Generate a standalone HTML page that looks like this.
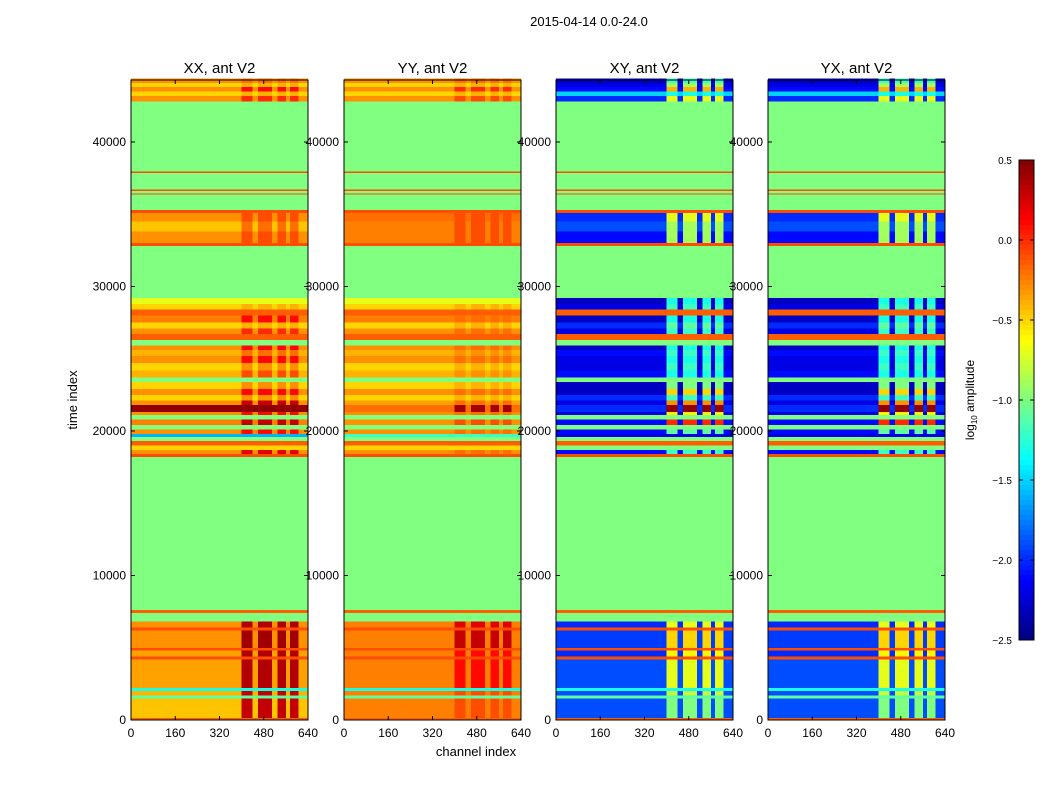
<!DOCTYPE html>
<html><head><meta charset="utf-8"><style>
html,body{margin:0;padding:0;background:#fff;width:1050px;height:800px;overflow:hidden}
svg{font-family:"Liberation Sans","DejaVu Sans",sans-serif}
</style></head><body>
<svg id="fig" width="1050" height="800" viewBox="0 0 1050 800" xmlns="http://www.w3.org/2000/svg">
<rect width="1050" height="800" fill="#fff"/>
<text x="589" y="26" font-size="13" text-anchor="middle">2015-04-14 0.0-24.0</text>
<text x="476" y="756" font-size="13" text-anchor="middle">channel index</text>
<text x="77" y="400" font-size="13" text-anchor="middle" transform="rotate(-90 77 400)">time index</text>
<g id="panels"></g>
<g id="cbar"></g>
</svg>
<script>
// ---- data ----
const panelTitles = ["XX, ant V2","YY, ant V2","XY, ant V2","YX, ant V2"];
const xTicks = [0,160,320,480,640];
const yTicks = [0,10000,20000,30000,40000];
const cbTicks = [0.5,0.0,-0.5,-1.0,-1.5,-2.0,-2.5];
const bandStart = [0,150,1500,1700,2000,2200,4200,4400,4800,5000,6200,6400,6800,7400,7600,18200,18400,18700,19000,19300,19600,19800,20100,20400,20800,21100,21300,21800,22100,22500,22900,23400,23700,24200,24700,25200,25600,25900,26300,26700,27100,27500,28000,28400,28800,29200,32800,33000,33800,34500,35100,35300,36350,36450,36600,36700,37850,37950,42800,43200,43500,43800,44100];
const bandEnd   = [150,1500,1700,2000,2200,4200,4400,4800,5000,6200,6400,6800,7400,7600,18200,18400,18700,19000,19300,19600,19800,20100,20400,20800,21100,21300,21800,22100,22500,22900,23400,23700,24200,24700,25200,25600,25900,26300,26700,27100,27500,28000,28400,28800,29200,32800,33000,33800,34500,35100,35300,36350,36450,36600,36700,37850,37950,42800,43200,43500,43800,44100,44400];
const xxBase = [-0.15,-0.45,-1.1,-0.4,-1.3,-0.35,-0.1,-0.35,-0.1,-0.3,-0.1,-0.3,-1,-0.15,-1,-0.1,-0.3,-0.5,-0.15,-1,-1.6,-0.3,-1,-0.25,-1,-0.3,0.45,-0.3,-0.5,-0.3,-0.5,-1,-0.4,-0.5,-0.3,-0.4,-0.3,-1,-0.15,-0.3,-0.5,-0.25,-0.15,-0.5,-0.7,-1,-0.1,-0.3,-0.45,-0.3,-0.1,-1,-0.1,-1,-0.1,-1,-0.1,-1,-0.3,-0.5,-0.3,-0.5,-0.3];
const xxHi   = [-0.15,0.3,-1.1,0.3,-1.3,0.35,-0.1,0.35,-0.1,0.4,-0.1,0.35,-1,-0.15,-1,-0.1,0.2,-0.5,-0.15,-1,-1.6,0.1,-1,0.3,-1,0.1,0.45,0.3,-0.3,0.1,-0.3,-1,-0.1,-0.3,0.1,-0.2,0.1,-1,-0.15,0.0,-0.4,0.1,-0.15,-0.4,-0.7,-1,-0.1,-0.1,-0.2,-0.1,-0.1,-1,-0.1,-1,-0.1,-1,-0.1,-1,0.0,-0.4,0.1,-0.4,-0.2];
const yyBase = [-0.15,-0.25,-1.1,-0.25,-1.3,-0.25,-0.1,-0.25,-0.1,-0.25,-0.1,-0.25,-1,-0.15,-1,-0.1,-0.3,-0.5,-0.15,-1,-1.2,-0.3,-1,-0.3,-1,-0.3,-0.2,-0.35,-0.5,-0.3,-0.5,-1,-0.4,-0.5,-0.3,-0.4,-0.3,-1,-0.15,-0.3,-0.5,-0.25,-0.15,-0.5,-0.7,-1,-0.1,-0.25,-0.25,-0.2,-0.1,-1,-0.1,-1,-0.1,-1,-0.1,-1,-0.3,-0.5,-0.3,-0.5,-0.3];
const yyHi   = [-0.15,-0.1,-1.1,-0.1,-1.3,0.1,-0.1,0.1,-0.1,0.3,-0.1,0.2,-1,-0.15,-1,-0.1,-0.2,-0.5,-0.15,-1,-1.2,-0.2,-1,-0.1,-1,-0.2,0.4,-0.2,-0.4,-0.2,-0.4,-1,-0.3,-0.4,-0.2,-0.3,-0.2,-1,-0.15,-0.2,-0.4,-0.2,-0.15,-0.4,-0.7,-1,-0.1,-0.1,-0.1,-0.1,-0.1,-1,-0.1,-1,-0.1,-1,-0.1,-1,-0.1,-0.4,0.0,-0.4,-0.2];
const xyBase = [-0.15,-1.9,-1.1,-1.9,-1.3,-1.9,-0.1,-2.0,-0.1,-1.95,-0.1,-2.0,-1,-0.15,-1,-0.1,-2.1,-1.0,-0.15,-1,-2.2,-2.1,-1,-2.1,-1,-2.2,-2.0,-2.2,-2.0,-2.3,-2.3,-1,-2.1,-2.2,-2.2,-2.1,-2.3,-1,-0.15,-2.2,-2.0,-2.3,-0.15,-2.2,-2.3,-1,-0.1,-2.1,-1.9,-2.0,-0.1,-1,-0.1,-1,-0.1,-1,-0.1,-1,-2.0,-1.5,-2.1,-2.2,-2.3];
const xyHi   = [-0.15,-1.0,-1.1,-0.8,-1.3,-0.7,-0.1,-0.6,-0.1,-0.5,-0.1,-0.7,-1,-0.15,-1,-0.1,-1.2,-1.0,-0.15,-1,-2.2,-1.1,-1,0.0,-1,-0.6,0.45,-0.3,-1.2,-0.5,-1.0,-1,-1.3,-1.2,-1.3,-1.2,-1.3,-1,-0.15,-1.2,-1.1,-1.3,-0.15,-1.2,-1.3,-1,-0.1,-0.9,-0.9,-0.7,-0.1,-1,-0.1,-1,-0.1,-1,-0.1,-1,-0.7,-1.3,-0.4,-0.9,-1.2];
const hiChanStart = [400,460,530,575];
const hiChanEnd   = [440,510,560,605];
// ---- helpers ----
const NS="http://www.w3.org/2000/svg";
const panelX=[131,344,556,768], PW=177, PT=80, PB=720;
const yScale=t=>PB-(t/10000)*144.5;
const xScale=(p,c)=>panelX[p]+c/640*PW;
function jet(v){
  let x=(v+2.5)/3; x=Math.max(0,Math.min(1,x));
  const f=a=>Math.round(255*Math.max(0,Math.min(1,1.5-Math.abs(4*x-a))));
  return `rgb(${f(3)},${f(2)},${f(1)})`;
}
function mk(tag,attrs,parent){const e=document.createElementNS(NS,tag);for(const k in attrs)e.setAttribute(k,attrs[k]);parent.appendChild(e);return e;}
const panels=document.getElementById('panels');
const baseArr=[xxBase,yyBase,xyBase,xyBase], hiArr=[xxHi,yyHi,xyHi,xyHi];
for(let p=0;p<4;p++){
  const g=mk('g',{},panels);
  
  
  const hm=mk('g',{'shape-rendering':'crispEdges'},g);
  
  
  for(let i=0;i<bandStart.length;i++){
    const y1=yScale(bandEnd[i]), y2=yScale(Math.min(bandStart[i],44400));
    const r=mk('rect',{x:panelX[p],y:y1,width:PW,height:Math.max(0.6,y2-y1),fill:jet(baseArr[p][i])},hm);
    
    
    for(let j=0;j<hiChanStart.length;j++){
      const x1=xScale(p,hiChanStart[j]), x2=xScale(p,hiChanEnd[j]);
      const c=mk('rect',{x:x1,y:y1,width:x2-x1,height:Math.max(0.6,y2-y1),fill:jet(hiArr[p][i])},hm);
      
      
    }
  }
  const fr=mk('rect',{x:panelX[p],y:PT,width:PW,height:PB-PT,fill:'none',stroke:'#000','stroke-width':1},g);
  
  
  const tt=mk('text',{x:panelX[p]+PW/2,y:73,'font-size':15,'text-anchor':'middle'},g);
  tt.textContent=panelTitles[p];
  
  
  xTicks.forEach(v=>{
    const x=xScale(p,v);
    mk('line',{x1:x,x2:x,y1:PB,y2:PB-4,stroke:'#000'},g);
    mk('line',{x1:x,x2:x,y1:PT,y2:PT+4,stroke:'#000'},g);
    const t=mk('text',{x:x,y:737,'font-size':12,'text-anchor':'middle'},g);
    t.textContent=v;
    
    
  });
  yTicks.forEach(v=>{
    const y=yScale(v);
    mk('line',{x1:panelX[p],x2:panelX[p]+4,y1:y,y2:y,stroke:'#000'},g);
    mk('line',{x1:panelX[p]+PW,x2:panelX[p]+PW-4,y1:y,y2:y,stroke:'#000'},g);
    const t=mk('text',{x:panelX[p]-5,y:y+4,'font-size':12,'text-anchor':'end'},g);
    t.textContent=v;
    
    
  });
}
// colorbar
const cb=document.getElementById('cbar');
const CX=1019,CW=15,CT=160,CB=640;
for(let i=0;i<96;i++){
  const v=0.5-3*(i+0.5)/96;
  mk('rect',{x:CX,y:CT+i*(CB-CT)/96,width:CW,height:(CB-CT)/96+0.6,fill:jet(v),'shape-rendering':'crispEdges'},cb);
}
mk('rect',{x:CX,y:CT,width:CW,height:CB-CT,fill:'none',stroke:'#000'},cb);
cbTicks.forEach(v=>{
  const y=CT+(0.5-v)/3*(CB-CT);
  mk('line',{x1:CX+CW,x2:CX+CW-4,y1:y,y2:y,stroke:'#000'},cb);
  mk('line',{x1:CX,x2:CX+4,y1:y,y2:y,stroke:'#000'},cb);
  const t=mk('text',{x:1012,y:y+4,'font-size':10,'text-anchor':'end'},cb);
  t.textContent=v.toFixed(1).replace('-','\u2212');
  
  
});
const cl=mk('text',{x:974,y:400,'font-size':12,'text-anchor':'middle',transform:'rotate(-90 974 400)'},cb);
cl.innerHTML='log<tspan font-size="8" dy="3">10</tspan><tspan dy="-3"> amplitude</tspan>';


</script>
</body></html>
